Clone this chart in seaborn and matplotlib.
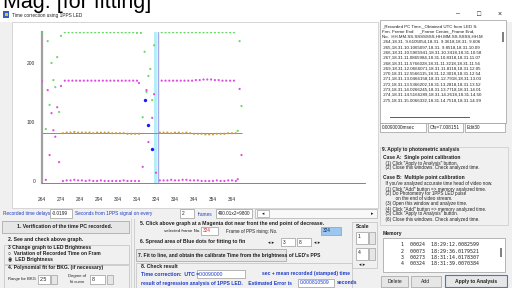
import matplotlib
matplotlib.use("Agg")
import numpy as np
import pandas as pd
import seaborn as sns
import matplotlib.pyplot as plt
from matplotlib.patches import Rectangle

# ---- data ----
frames_high = [276, 278, 280, 282, 284, 286, 288, 290, 292, 294,
               296, 298, 300, 302, 304, 306, 308, 310, 312, 314,
               327, 329, 331, 333, 335, 337, 339, 341, 343, 345,
               347, 349, 351, 353, 355, 357, 359, 361, 363, 365]
green_high = [252, 252, 252, 252, 252, 252, 252, 252, 252, 252,
              252, 252, 252, 252, 252, 252, 252, 252, 252, 251,
              252, 252, 252, 252, 252, 252, 252, 252, 252, 252,
              252, 252, 252, 252, 252, 252, 252, 252, 252, 252]
magenta_high = [170, 170, 170, 170, 170, 170, 170, 170, 170, 170,
                170, 170, 170, 170, 170, 170, 170, 170, 170, 170,
                170, 170, 170, 170, 170, 170, 170, 170, 170, 171,
                171, 172, 172, 172, 171, 171, 170, 170, 170, 170]

frames_low = [275, 277, 279, 281, 283, 285, 287, 289, 291, 293, 295,
              297, 299, 301, 303, 305, 307, 309, 311, 313, 315,
              326, 328, 330, 332, 334, 336, 338, 340, 342, 344, 346,
              348, 350, 352, 354, 356, 358, 360, 362, 364, 366]
orange_low = [81, 82, 82, 83, 82, 82, 82, 82, 81, 82, 82,
              82, 82, 81, 81, 81, 81, 80, 80, 80, 80,
              82, 82, 82, 81, 82, 82, 81, 82, 81, 80, 80,
              80, 79, 79, 79, 80, 80, 80, 81, 81, 81]
magenta_low = [0, 1, 1, 2, 1, 1, 0, 1, 0, 0, 1,
               0, 0, 0, 0, 0, 1, 0, 0, 0, 0,
               1, 1, 1, 2, 1, 1, 2, 2, 1, 1, 1,
               0, 0, 0, 0, 1, 0, 0, 1, 1, 0]

green_edge_frames = [264, 266, 267, 268, 269, 270, 271, 272, 273, 274,
                     316, 317, 318, 319, 320, 321, 322, 323, 367, 368, 369]
green_edge = [252, 88, 237, 129, 200, 171, 159, 210, 117, 246,
              251, 108, 219, 151, 178, 190, 137, 230, 85, 237, 127]
magenta_edge_frames = [264, 266, 267, 268, 269, 270, 271, 272, 273, 274,
                       315, 317, 319, 320, 322, 323, 324, 367, 368, 369]
magenta_edge = [169, 2, 154, 44, 115, 86, 75, 125, 32, 161,
                166, 24, 154, 66, 107, 147, 14, 3, 156, 44]

blue_frames = [318, 320, 322]
blue_values = [137, 95, 54]

fit_level = 80.5
fit_start, fit_end = 264, 369
selected_frame = 324

x_labels = [264, 274, 284, 294, 304, 314, 324, 334, 344, 354, 364]
y_labels = [0, 100, 200]

df = pd.concat([
    pd.DataFrame({"frame": frames_high, "value": green_high, "s": "green"}),
    pd.DataFrame({"frame": green_edge_frames, "value": green_edge, "s": "green"}),
    pd.DataFrame({"frame": frames_high, "value": magenta_high, "s": "magenta"}),
    pd.DataFrame({"frame": magenta_edge_frames, "value": magenta_edge, "s": "magenta"}),
    pd.DataFrame({"frame": frames_low, "value": magenta_low, "s": "magenta"}),
    pd.DataFrame({"frame": frames_low, "value": orange_low, "s": "orange"}),
])
palette = {"green": "#6ad86a", "magenta": "#e04ce0", "orange": "#c8a04a"}

sns.set_style("white")
plt.rcParams['font.family'] = ['Liberation Sans', 'DejaVu Sans']

W, H = 512, 288
fig = plt.figure(figsize=(5.12, 2.88), dpi=100)
fig.patch.set_facecolor("white")


def box(x, y, w, h, fc="white", ec="none", lw=0.5, z=-1, ls="-"):
    fig.add_artist(Rectangle((x / W, 1 - (y + h) / H), w / W, h / H,
                             transform=fig.transFigure, facecolor=fc,
                             edgecolor=ec, linewidth=lw, zorder=z, linestyle=ls))


def txt(x, y, s, size=3.6, color="#202020", weight="normal", ha="left", **kw):
    fig.text(x / W, 1 - y / H, s, fontsize=size, color=color, weight=weight,
             ha=ha, va="center", **kw)


# window background
box(0, 22, 512, 266, fc="#f0f0f0", z=-3)
box(12, 22, 366, 186, fc="white", ec="#c8c8c8", z=-2)
# heading above the window, cut off by the top edge as in the screenshot
fig.text(3 / W, 1 - 8 / H, "Mag. [for fitting]", fontsize=15.5, va="baseline", color="black")
box(3, 11, 6, 7, fc="#3060c0", z=1)
box(5, 13, 3, 3, fc="#f0c020", z=2)
txt(12, 15, "Time correction using 1PPS LED", size=3.4)
txt(456, 14, "\u2013", size=5)
txt(477, 14, "\u25a1", size=5)
txt(498, 14, "\u00d7", size=5)

# ---- chart ----
ax = fig.add_axes([42 / W, 1 - 183 / H, (365 - 42) / W, (183 - 31.7) / H])
ax.set_facecolor("none")
ax.axvspan(selected_frame - 0.9, selected_frame + 0.6, color="#b4eef6", lw=0, zorder=1)
ax.axvline(selected_frame + 0.9, color="#a8a8e8", lw=1.0, zorder=1)
ax.hlines(fit_level, fit_start, fit_end, color="#f06060", lw=0.7, zorder=2)
sns.scatterplot(data=df, x="frame", y="value", hue="s", palette=palette,
                s=2.5, linewidth=0, legend=False, ax=ax, zorder=3)
sns.scatterplot(x=blue_frames, y=blue_values, color="#1a1aff", s=6,
                linewidth=0, ax=ax, zorder=4)
ax.set_xlim(264, 434)
ax.set_ylim(-3.4, 253)
ax.set_xlabel("")
ax.set_ylabel("")
ax.set_xticks(x_labels)
ax.set_xticks(np.arange(264, 370, 2), minor=True)
ax.set_yticks(y_labels)
ax.tick_params(axis="x", which="both", length=8, width=0.5, color="#707070",
               direction="out", pad=2, labelsize=3.5, labelcolor="#303030")
ax.tick_params(axis="y", length=2, width=0.5, color="#707070", pad=3,
               labelsize=3.5, labelcolor="#303030")
for s in ["top", "right"]:
    ax.spines[s].set_visible(False)
ax.spines["left"].set_color("#a0a0a0")
ax.spines["left"].set_linewidth(1.6)
ax.spines["bottom"].set_color("#707070")
ax.spines["bottom"].set_linewidth(0.6)

# ---- right panel ----
box(380, 20, 126, 103, fc="white", ec="#9a9a9a")
list_lines = [
    "_Recorded PC Time,_Obtained UTC from LED S:",
    "Frm. Frame End     _Frame Center,_Frame End,",
    "No.  HH.MM.SS.SSSSSSS,HH.MM.SS.SSSS,HH.M",
    " 264,18.31. 9.6105054,18.31. 9.3618,18.31. 9.606",
    " 265,18.31.10.1065097,18.31. 9.8518,18.31.10.09",
    " 266,18.31.10.5965941,18.31.10.3418,18.31.10.58",
    " 267,18.31.11.0865984,18.31.10.8318,18.31.11.07",
    " 268,18.31.11.5766028,18.31.11.3218,18.31.11.56",
    " 269,18.31.12.0666071,18.31.11.8118,18.31.12.05",
    " 270,18.31.12.5566115,18.31.12.3018,18.31.12.54",
    " 271,18.31.13.0466158,18.31.12.7918,18.31.13.03",
    " 272,18.31.13.5366202,18.31.13.2818,18.31.13.52",
    " 273,18.31.14.0266245,18.31.13.7718,18.31.14.01",
    " 274,18.31.14.5166289,18.31.14.2618,18.31.14.50",
    " 275,18.31.15.0066332,18.31.14.7518,18.31.14.99",
]
for i, line in enumerate(list_lines):
    txt(382, 26 + i * 5.3, line, size=3.2)
box(502, 32, 2, 10, fc="#808080", z=1)
box(390, 117, 80, 1.2, fc="#606060", z=1)

box(380, 123, 46, 9, fc="white", ec="#9a9a9a")
txt(382, 127.5, "0.0090000msec", size=3.4)
box(428, 123, 35, 9, fc="white", ec="#9a9a9a")
txt(430, 127.5, "Ofs=7.008151", size=3.4)
box(465, 123, 40, 9, fc="white", ec="#9a9a9a")
txt(467, 127.5, "Edit30", size=3.4)

box(380, 147, 128, 78, fc="none", ec="#c8c8c8")
txt(382, 149, "9. Apply to photometric analysis", size=3.6, weight="bold")
right_text = [
    (157, "Case A:  Single point calibration", "bold"),
    (163, "  (1) Click \"Apply to Analysis\" button.", "normal"),
    (168, "  (2) Close this windows. Check analyzed time.", "normal"),
    (178, "Case B:  Multiple point calibration", "bold"),
    (184, "  If you've analyzed accurate time head of video now.", "normal"),
    (189, "  (1) Click \"Add\" button => memory analyzed time.", "normal"),
    (194, "  (2) Do Photometry for 1PPS LED pulse", "normal"),
    (199, "          on the end of video stream.", "normal"),
    (204, "  (3) Open this window and analyze time.", "normal"),
    (209, "  (4) Click \"Add\" button => memory analyzed time.", "normal"),
    (214, "  (5) Click \"Apply to Analysis\" button.", "normal"),
    (219, "  (6) Close this windows. Check analyzed time.", "normal"),
]
for y, s, w in right_text:
    txt(383, y, s, size=3.6 if w == "bold" else 3.3, weight=w)
txt(383, 233, "Memory", size=3.6, weight="bold")
box(383, 238, 122, 34, fc="white", ec="#9a9a9a")
memory_lines = ["     1  00024  18:29:12.0082599",
                "     2  00073  18:29:36.0179521",
                "     3  00273  18:31:14.0178307",
                "     4  00324  18:31:39.0070384"]
for i, line in enumerate(memory_lines):
    txt(386, 245 + i * 6.3, line, size=3.6, family="DejaVu Sans Mono")
box(500, 248, 1.5, 9, fc="#808080", z=1)
box(381, 276, 27, 11, fc="#e6e6e6", ec="#a0a0a0")
txt(394.5, 281.5, "Delete", size=3.6, ha="center")
box(411, 276, 30, 11, fc="#e6e6e6", ec="#a0a0a0")
txt(426, 281.5, "Add", size=3.6, ha="center")
box(445, 275, 62, 12, fc="#e6e6e6", ec="#3c78d8", lw=0.8)
txt(476, 281.5, "Apply to Analysis", size=3.6, ha="center", weight="bold")

# ---- bottom controls ----
blue = "#1e3cc8"
txt(3, 214, "Recorded time delays", size=3.4, color=blue)
box(50, 209, 22, 9, fc="white", ec="#9a9a9a")
txt(52, 213.5, "-0.0199", size=3.4)
txt(75, 214, "Seconds from 1PPS signal on every", size=3.4, color=blue)
box(180, 209, 14, 9, fc="white", ec="#9a9a9a")
txt(182, 213.5, "2", size=3.4)
txt(198, 214, "frames", size=3.4, color=blue)
box(216, 209, 36, 9, fc="white", ec="#9a9a9a")
txt(218, 213.5, "490.01x2=9800", size=3.4)
box(255, 209, 122, 9, fc="#f8f8f8", ec="#b0b0b0")
box(257, 210, 12, 7, fc="white", ec="#a0a0a0")
txt(263, 213.5, "\u25c2", size=3.4, ha="center")
txt(372, 213.5, "\u25b8", size=3.4, ha="center")

box(2, 221, 127, 12, fc="#e6e6e6", ec="#a0a0a0")
txt(65, 227, "1. Verification of the time PC recorded.", size=3.7, ha="center", weight="bold")
txt(8, 240, "2. See and check above graph.", size=3.7, weight="bold")
box(4, 245, 125, 19, fc="none", ec="#c0c0c0")
txt(8, 247, "3 Change graph to LED Brightness", size=3.6, weight="bold")
txt(8, 253.5, "\u25cb  Variation of Recorded Time on Fram", size=3.6, weight="bold")
txt(8, 260, "\u25c9  LED Brightness", size=3.6, weight="bold")
box(4, 265, 125, 23, fc="none", ec="#c0c0c0")
txt(8, 268, "4. Polynomial fit for BKG. (if necessary)", size=3.6, weight="bold")
txt(8, 279, "Range for BKG", size=3.0)
box(38, 275, 12, 9, fc="white", ec="#9a9a9a")
txt(40, 279.5, "2.5", size=3.8)
box(51, 275, 6, 9, fc="#e6e6e6", ec="#a0a0a0")
txt(68, 276, "Degree of", size=3.0)
txt(70, 282, "fit curve", size=3.0)
box(90, 275, 15, 9, fc="white", ec="#9a9a9a")
txt(92, 279.5, "8", size=3.8)
box(107, 275, 6, 9, fc="#e6e6e6", ec="#a0a0a0")

box(131, 219, 1.2, 69, fc="#b8e8e0", z=0)
box(134, 219, 0.8, 69, fc="#d0d0d0", z=0)

txt(140, 224, "5. Click above graph at a Magenta dot near front the end point of decrease.",
    size=3.7, weight="bold")
txt(164, 231, "selected frame No.", size=3.2)
box(201, 227, 17, 8, fc="white", ec="#9a9a9a")
txt(203, 231, "324", size=3.4, color="#e02020")
txt(226, 231, "Frame of PPS rising: No.", size=3.3)
box(321, 227, 20, 8, fc="#9cc8f0", ec="#9a9a9a")
txt(323, 231, "324", size=3.4, color="#102060")
txt(140, 242, "6. Spread area of Blue dots for fitting to fin", size=3.7, weight="bold")
txt(268, 242, "\u25c2 \u25b8", size=3.4)
box(281, 238, 14, 8, fc="white", ec="#9a9a9a")
txt(283, 242, "3", size=3.4)
box(297, 238, 14, 8, fc="white", ec="#9a9a9a")
txt(299, 242, "8", size=3.4)
txt(314, 242, "\u25c2 \u25b8", size=3.4)
box(136, 249, 150, 12, fc="#e6e6e6", ec="#a0a0a0")
txt(138, 255, "7. Fit to line, and obtain the calibrate Time from the brightness of LED's PPS",
    size=3.6, weight="bold")
box(136, 263, 216, 25, fc="none", ec="#c0c0c0")
txt(141, 266, "8. Check result", size=3.7, weight="bold")
txt(141, 274, "Time correction:  UTC =", size=3.7, weight="bold", color=blue)
box(197, 270, 48, 8, fc="white", ec="#9a9a9a")
txt(199, 274, "0.0090000", size=3.7, color=blue)
txt(262, 274, "sec + mean recorded (stamped) time", size=3.6, weight="bold", color=blue)
txt(141, 283, "result of regression analysis of 1PPS LED.    Estimated Error is",
    size=3.6, weight="bold", color=blue)
box(298, 279, 36, 8, fc="white", ec="#9a9a9a")
txt(300, 283, "0.000810509", size=3.6, color=blue)
txt(337, 283, "seconds", size=3.6, weight="bold", color=blue)

box(352, 222, 25, 46, fc="none", ec="#c0c0c0")
txt(356, 226, "Scale", size=3.7, weight="bold")
box(356, 232, 12, 12, fc="white", ec="#9a9a9a")
txt(358, 236, "1", size=3.6)
box(369, 232, 6, 12, fc="#e6e6e6", ec="#a0a0a0")
box(356, 248, 12, 12, fc="white", ec="#9a9a9a")
txt(358, 252, "4", size=3.6)
box(369, 248, 6, 12, fc="#e6e6e6", ec="#a0a0a0")
txt(359, 265, "\u25c2 \u25b8", size=3.4)

fig.savefig("out.png", dpi=100)
